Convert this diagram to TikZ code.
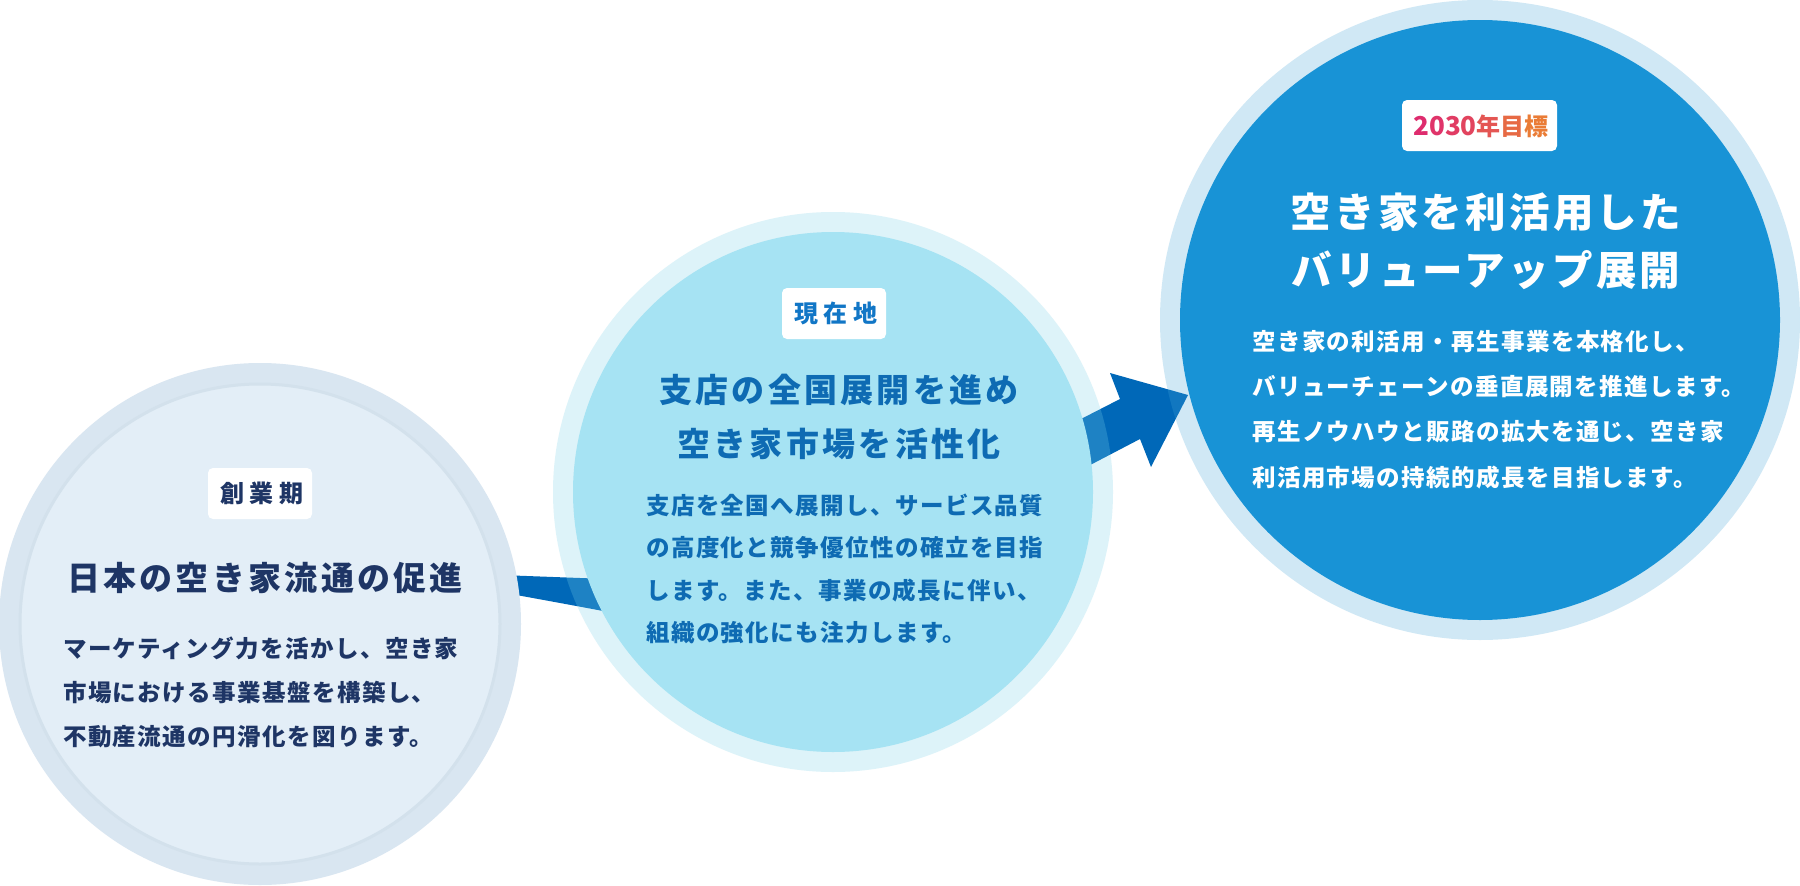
\documentclass[tikz,border=0pt]{standalone}
\usepackage{fontspec}
\newfontfamily\jp{Noto Sans CJK JP}
\newcommand\jpf[2]{\jp\bfseries\fontsize{#1}{#1}\selectfont\addfontfeature{LetterSpace=#2}}
\definecolor{navy}{HTML}{1E3565}
\definecolor{ctwo}{HTML}{0E6BB3}
\definecolor{btwo}{HTML}{1176C6}
\definecolor{arrowblue}{HTML}{0068B8}
\definecolor{oneout}{HTML}{D9E6F1}
\definecolor{onein}{HTML}{E3EEF7}
\definecolor{oneedge}{HTML}{D3E1EC}
\definecolor{tworing}{RGB}{120,208,232}
\definecolor{twoin}{HTML}{A6E3F3}
\definecolor{threering}{RGB}{68,164,216}
\definecolor{threein}{HTML}{1893D6}
\definecolor{ga}{HTML}{DE2C6E}
\definecolor{gb}{HTML}{E0346A}
\definecolor{gc}{HTML}{E13C64}
\definecolor{gd}{HTML}{E2445E}
\definecolor{ge}{HTML}{E45653}
\definecolor{gf}{HTML}{E76A44}
\definecolor{gg}{HTML}{EA7C36}
\tikzset{
  disc/.style={circle, inner sep=0pt, draw=none},
  badge/.style={fill=white, rounded corners=5pt, draw=none},
  badgetext/.style={inner sep=0pt, anchor=base, font={\jpf{24}{22}}},
  titletext/.style={inner sep=0pt, anchor=base, font={\jpf{33}{10}}},
  bigtitle/.style={inner sep=0pt, anchor=base, font={\jpf{40.5}{8}}, text=white},
  bodytext/.style={inner sep=0pt, anchor=base west, font={\jpf{23.5}{6}}},
}
\begin{document}
\begin{tikzpicture}[x=1pt,y=-1pt]
\useasboundingbox (0,0) rectangle (1800,886);
\fill[white] (0,0) rectangle (1800,886);

% arrows (behind circles)
\fill[arrowblue] (500,575) -- (660,581) -- (660,622)
  .. controls (610,612) and (560,603) .. (500,592) -- cycle;
\fill[arrowblue] (1040,440) -- (1120,399) -- (1110,373) -- (1188,395)
  -- (1151,467) -- (1140,439) -- (1050,486) -- cycle;

% circle 1
\node[disc, fill=oneout, minimum size=522pt] (c1o) at (260,624) {};
\node[disc, fill=onein, draw=oneedge, line width=3pt, minimum size=480pt] (c1) at (260,624) {};

% circle 2
\node[disc, fill=tworing, fill opacity=0.25, minimum size=560pt] (c2o) at (833,492) {};
\node[disc, fill=twoin, minimum size=520pt] (c2) at (833,492) {};

% circle 3
\node[disc, fill=threering, fill opacity=0.25, minimum size=640pt] (c3o) at (1480,320) {};
\node[disc, fill=threein, minimum size=600pt] (c3) at (1480,320) {};

% circle 1 texts
\fill[badge] (208,468) rectangle (312,519);
\node[badgetext, text=navy] (b1) at (262,502) {創業期};
\node[titletext, text=navy] (t1) at (265,590) {日本の空き家流通の促進};
\node[bodytext, text=navy] (p1a) at (63,657) {マーケティング力を活かし、空き家};
\node[bodytext, text=navy] (p1b) at (63,701) {市場における事業基盤を構築し、};
\node[bodytext, text=navy] (p1c) at (63,745) {不動産流通の円滑化を図ります。};

% circle 2 texts
\fill[badge] (782,288) rectangle (886,339);
\node[badgetext, text=btwo] (b2) at (836,322) {現在地};
\node[titletext, text=ctwo] (t2a) at (839,402.5) {支店の全国展開を進め};
\node[titletext, text=ctwo] (t2b) at (839,456.5) {空き家市場を活性化};
\node[bodytext, text=ctwo] (p2a) at (646,514) {支店を全国へ展開し、サービス品質};
\node[bodytext, text=ctwo] (p2b) at (646,556) {の高度化と競争優位性の確立を目指};
\node[bodytext, text=ctwo] (p2c) at (646,599) {します。また、事業の成長に伴い、};
\node[bodytext, text=ctwo] (p2d) at (646,641) {組織の強化にも注力します。};

% circle 3 texts
\fill[badge] (1402,100) rectangle (1557,151);
\node[inner sep=0pt, anchor=base, font={\jpf{26}{0}}] (b3) at (1481,135)
  {\textcolor{ga}{2}\textcolor{gb}{0}\textcolor{gc}{3}\textcolor{gd}{0}{\fontsize{24}{24}\selectfont\addfontfeature{LetterSpace=12}\textcolor{ge}{年}\textcolor{gf}{目}\textcolor{gg}{標}}};
\node[bigtitle] (t3a) at (1486,227) {空き家を利活用した};
\node[bigtitle] (t3b) at (1486,285) {バリューアップ展開};
\node[bodytext, text=white] (p3a) at (1252,350) {空き家の利活用・再生事業を本格化し、};
\node[bodytext, text=white] (p3b) at (1252,395) {バリューチェーンの垂直展開を推進します。};
\node[bodytext, text=white] (p3c) at (1252,440) {再生ノウハウと販路の拡大を通じ、空き家};
\node[bodytext, text=white] (p3d) at (1252,486) {利活用市場の持続的成長を目指します。};
\end{tikzpicture}
\end{document}
